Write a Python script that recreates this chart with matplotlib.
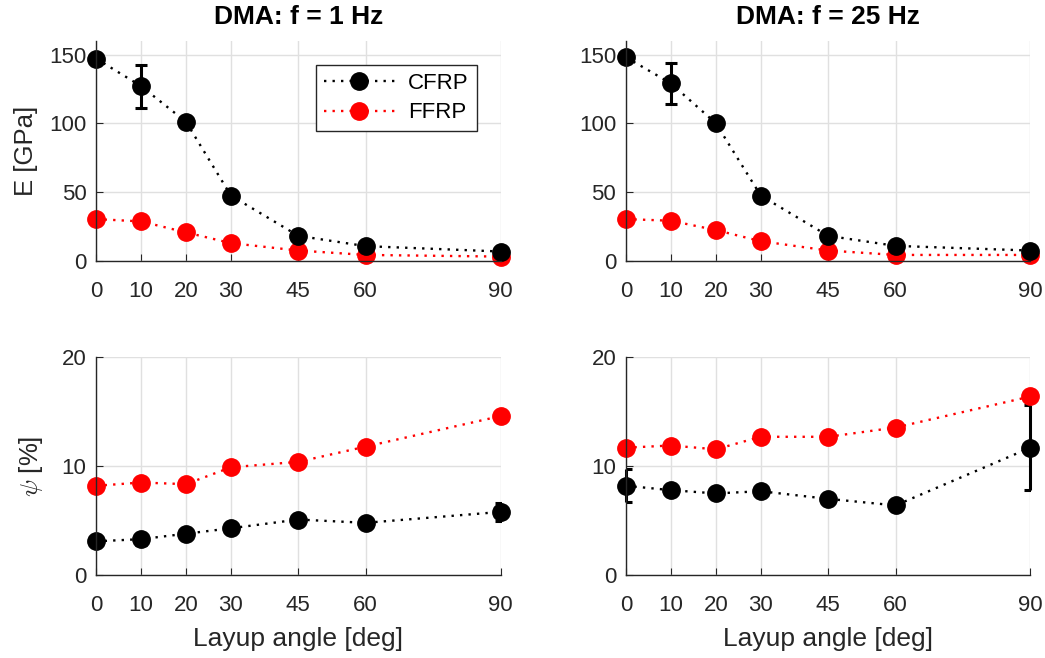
import numpy as np
import matplotlib
matplotlib.use('Agg')
from matplotlib import pyplot as plt
from matplotlib.lines import Line2D

plt.rcParams['font.family'] = ['Liberation Sans', 'DejaVu Sans']
plt.rcParams['mathtext.fontset'] = 'cm'

angles = [0, 10, 20, 30, 45, 60, 90]

# stiffness E [GPa]
E_cfrp_1 = [147, 127, 101, 47.3, 18, 10.5, 6.6]
E_cfrp_1_err = [0, 15.7, 0, 0, 0, 0, 0]
E_ffrp_1 = [30.2, 28.5, 20.5, 12.7, 7.3, 4.1, 2.9]
E_cfrp_25 = [148, 129, 100, 47.3, 18, 10.7, 7.3]
E_cfrp_25_err = [0, 15, 0, 0, 0, 0, 0]
E_ffrp_25 = [30.2, 29, 22.2, 14.1, 7.3, 4.1, 4.1]

# loss factor psi [%]
psi_cfrp_1 = [3.1, 3.3, 3.8, 4.3, 5.1, 4.8, 5.8]
psi_cfrp_1_err = [0, 0.5, 0, 0, 0, 0, 0.8]
psi_ffrp_1 = [8.2, 8.5, 8.35, 9.9, 10.4, 11.8, 14.6]
psi_cfrp_25 = [8.2, 7.8, 7.5, 7.7, 7.0, 6.4, 11.7]
psi_cfrp_25_err = [1.5, 0, 0, 0, 0, 0.4, 3.9]
psi_ffrp_25 = [11.7, 11.9, 11.55, 12.7, 12.7, 13.55, 16.4]

fig = plt.figure(figsize=(10.45, 6.58), dpi=100)
axL = [0.092, 0.599]
w = 0.387
ax_tl = fig.add_axes([axL[0], 0.604, w, 0.334])
ax_tr = fig.add_axes([axL[1], 0.604, w, 0.334])
ax_bl = fig.add_axes([axL[0], 0.126, w, 0.331])
ax_br = fig.add_axes([axL[1], 0.126, w, 0.331])

txt = (0.15, 0.15, 0.15)
dots = (0, (1, 2.6))


def draw(ax, c, c_err, f, ylim, yt):
    line_c, caps, bars = ax.errorbar(angles, c, yerr=c_err, color='k', ls=dots, lw=1.7,
                                     marker='o', ms=12.5, capsize=4,
                                     elinewidth=2.2, capthick=2.2)
    line_f, = ax.plot(angles, f, color='r', ls=dots, lw=1.7, marker='o', ms=12.5)
    # markers and bars hang over the axes edge, only the caps get cut like matlab
    line_c.set_clip_on(False)
    line_f.set_clip_on(False)
    for b in bars:
        b.set_clip_on(False)
    ax.set_xlim(0, 90)
    ax.set_ylim(*ylim)
    ax.set_xticks(angles)
    ax.set_yticks(yt)
    ax.grid(True, color=(0.88, 0.88, 0.88), lw=1)
    ax.set_axisbelow(True)
    for s in ['top', 'right']:
        ax.spines[s].set_visible(False)
    for s in ['left', 'bottom']:
        ax.spines[s].set_color(txt)
        ax.spines[s].set_linewidth(1)
    ax.tick_params(direction='in', labelsize=16, colors=txt, length=5)
    ax.tick_params(axis='x', pad=14.5)
    ax.tick_params(axis='y', pad=7)


draw(ax_tl, E_cfrp_1, E_cfrp_1_err, E_ffrp_1, (0, 160), [0, 50, 100, 150])
draw(ax_tr, E_cfrp_25, E_cfrp_25_err, E_ffrp_25, (0, 160), [0, 50, 100, 150])
draw(ax_bl, psi_cfrp_1, psi_cfrp_1_err, psi_ffrp_1, (0, 20), [0, 10, 20])
draw(ax_br, psi_cfrp_25, psi_cfrp_25_err, psi_ffrp_25, (0, 20), [0, 10, 20])

ax_tl.set_title('DMA: f = 1 Hz', fontsize=19, fontweight='bold', pad=12)
ax_tr.set_title('DMA: f = 25 Hz', fontsize=19, fontweight='bold', pad=12)
ax_tl.set_ylabel('E [GPa]', fontsize=18.5, color=txt, labelpad=8)
ax_bl.set_ylabel(r'$\psi$ [%]', fontsize=18.5, color=txt, labelpad=12)
ax_bl.set_xlabel('Layup angle [deg]', fontsize=19, color=txt, labelpad=8)
ax_br.set_xlabel('Layup angle [deg]', fontsize=19, color=txt, labelpad=8)

handles = [Line2D([], [], color='k', ls=dots, lw=1.7, marker='o', ms=12.5),
           Line2D([], [], color='r', ls=dots, lw=1.7, marker='o', ms=12.5)]
leg = ax_tl.legend(handles, ['CFRP', 'FFRP'], loc='upper right',
                   bbox_to_anchor=(0.941, 0.891), borderaxespad=0, fontsize=16,
                   fancybox=False, edgecolor=txt, framealpha=1, handlelength=3.2,
                   borderpad=0.35, labelspacing=0.4, handletextpad=0.6)
leg.get_frame().set_linewidth(1)

fig.savefig('out.png', dpi=100)
